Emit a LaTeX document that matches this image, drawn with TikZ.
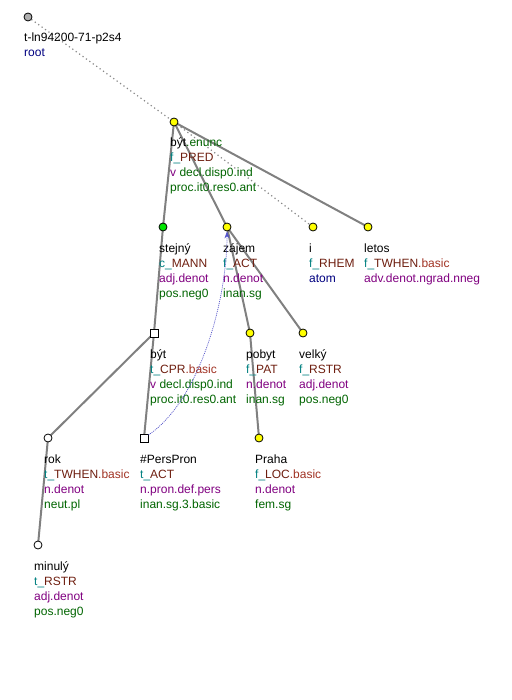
\documentclass[tikz,border=0pt]{standalone}
\usepackage{fontspec}
\setmainfont{Liberation Sans}
\usetikzlibrary{backgrounds,arrows.meta}
\definecolor{tteal}{RGB}{0,128,128}
\definecolor{tfun}{RGB}{110,30,15}
\definecolor{tsub}{RGB}{160,50,35}
\definecolor{tpurp}{RGB}{128,0,128}
\definecolor{tgreen}{RGB}{0,100,0}
\definecolor{tblue}{RGB}{0,0,128}
\definecolor{edgegray}{RGB}{128,128,128}
\definecolor{dotgray}{RGB}{135,135,135}
\definecolor{rootgray}{RGB}{175,175,175}
\definecolor{nyellow}{RGB}{255,255,0}
\definecolor{ngreen}{RGB}{0,230,0}
\definecolor{corefblue}{RGB}{80,80,200}
\newcommand\tfn[3]{\textcolor{tteal}{#1\_}\textcolor{tfun}{#2}\textcolor{tsub}{#3}}
\newcommand\tpu[1]{\textcolor{tpurp}{#1}}
\newcommand\tgr[1]{\textcolor{tgreen}{#1}}
\newcommand\tbl[1]{\textcolor{tblue}{#1}}
\newcommand\tlab[4]{%
  \foreach \ln [count=\i] in {#4} {\node[lab] (#1-\i) at (#2-4,#3+25+15*\i-15) {\ln};}%
}
\tikzset{
  tcirc/.style={circle,draw=black,line width=0.8pt,minimum size=8pt,inner sep=0pt},
  tsq/.style={rectangle,draw=black,fill=white,line width=0.8pt,minimum size=8pt,inner sep=0pt},
  lab/.style={anchor=base west,inner sep=0pt,font=\fontsize{12}{15}\selectfont},
  tedge/.style={draw=edgegray,line width=2pt},
  dedge/.style={draw=dotgray,line width=1.2pt,dash pattern=on 1.2pt off 3pt},
  coref/.style={draw=corefblue,line width=0.7pt,dash pattern=on 1pt off 1pt,
    -{Stealth[length=7pt,width=5pt,fill=corefblue]}},
}
\begin{document}
\begin{tikzpicture}[x=1pt,y=-1pt]
\useasboundingbox (0,0) rectangle (511,700);
\node[tcirc,fill=rootgray] (root) at (28,17) {};
\node[tcirc,fill=nyellow] (byt) at (174,122) {};
\node[tcirc,fill=ngreen] (stejny) at (163,227) {};
\node[tcirc,fill=nyellow] (zajem) at (227,227) {};
\node[tcirc,fill=nyellow] (i) at (313,227) {};
\node[tcirc,fill=nyellow] (letos) at (368,227) {};
\node[tsq] (bytc) at (154,333) {};
\node[tcirc,fill=nyellow] (pobyt) at (250,333) {};
\node[tcirc,fill=nyellow] (velky) at (303,333) {};
\node[tcirc,fill=white] (rok) at (48,438) {};
\node[tsq] (pers) at (144,438) {};
\node[tcirc,fill=nyellow] (praha) at (259,438) {};
\node[tcirc,fill=white] (minuly) at (38,545) {};

\tlab{rootl}{28}{17}{t-ln94200-71-p2s4,\tbl{root}}
\tlab{bytl}{174}{122}{{být\tgr{.enunc}},{\tfn{f}{PRED}{}},{\tpu{v} \tgr{decl.disp0.ind}},{\tgr{proc.it0.res0.ant}}}
\tlab{stejnyl}{163}{227}{stejný,{\tfn{c}{MANN}{}},{\tpu{adj.denot}},{\tgr{pos.neg0}}}
\tlab{zajeml}{227}{227}{zájem,{\tfn{f}{ACT}{}},{\tpu{n.denot}},{\tgr{inan.sg}}}
\tlab{il}{313}{227}{i,{\tfn{f}{RHEM}{}},{\tbl{atom}}}
\tlab{letosl}{368}{227}{letos,{\tfn{f}{TWHEN}{.basic}},{\tpu{adv.denot.ngrad.nneg}}}
\tlab{bytcl}{154}{333}{být,{\tfn{t}{CPR}{.basic}},{\tpu{v} \tgr{decl.disp0.ind}},{\tgr{proc.it0.res0.ant}}}
\tlab{pobytl}{250}{333}{pobyt,{\tfn{f}{PAT}{}},{\tpu{n.denot}},{\tgr{inan.sg}}}
\tlab{velkyl}{303}{333}{velký,{\tfn{f}{RSTR}{}},{\tpu{adj.denot}},{\tgr{pos.neg0}}}
\tlab{rokl}{48}{438}{rok,{\tfn{t}{TWHEN}{.basic}},{\tpu{n.denot}},{\tgr{neut.pl}}}
\tlab{persl}{144}{438}{\#PersPron,{\tfn{t}{ACT}{}},{\tpu{n.pron.def.pers}},{\tgr{inan.sg.3.basic}}}
\tlab{prahal}{259}{438}{Praha,{\tfn{f}{LOC}{.basic}},{\tpu{n.denot}},{\tgr{fem.sg}}}
\tlab{minulyl}{38}{545}{minulý,{\tfn{t}{RSTR}{}},{\tpu{adj.denot}},{\tgr{pos.neg0}}}

\begin{scope}[on background layer]
\draw[dedge] (root.center) -- (byt.center);
\draw[dedge] (byt.center) -- (i.center);
\draw[tedge] (byt.center) -- (stejny.center);
\draw[tedge] (byt.center) -- (zajem.center);
\draw[tedge] (byt.center) -- (letos.center);
\draw[tedge] (stejny.center) -- (bytc.center);
\draw[tedge] (bytc.center) -- (pers.center);
\draw[tedge] (bytc.center) -- (rok.center);
\draw[tedge] (rok.center) -- (minuly.center);
\draw[tedge] (zajem.center) -- (pobyt.center);
\draw[tedge] (zajem.center) -- (velky.center);
\draw[tedge] (pobyt.center) -- (praha.center);
\end{scope}
\draw[coref] (pers) .. controls (200,400) and (227,300) .. (zajem);
\end{tikzpicture}
\end{document}
